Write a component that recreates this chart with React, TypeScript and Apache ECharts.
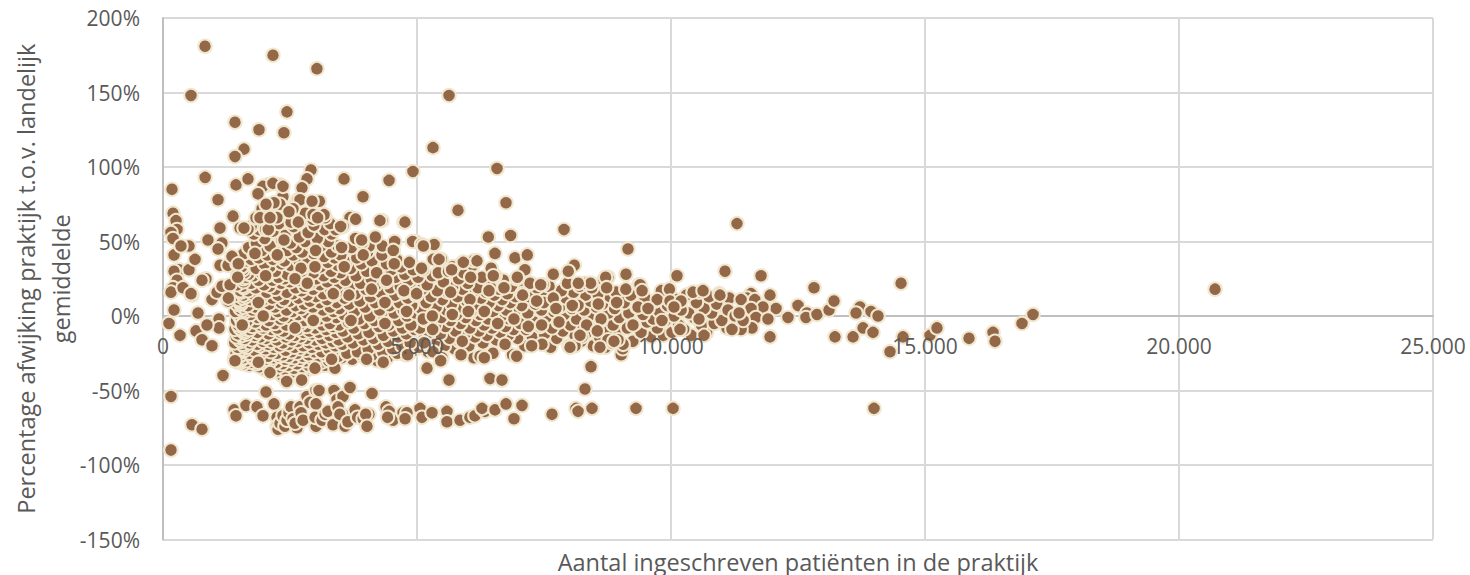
import React, { useEffect, useRef } from "react";
import * as echarts from "echarts";

const yTicks = { min: -150, max: 200, step: 50 };
const xTicks = { min: 0, max: 25000, step: 5000 };
const xTitle = "Aantal ingeschreven patiënten in de praktijk";
const yTitle = "Percentage afwijking praktijk t.o.v. landelijk\ngemiddelde";

const cloud1400: number[][] = [[1405,-29],[1412,-18],[1418,-9],[1425,3],[1430,14],[1438,-25],[1442,-14],[1448,-3],[1452,8],[1458,21],[1462,30],[1468,-31],[1472,-21],[1478,-12],[1482,-6],[1488,1],[1493,11],[1499,27],[1505,-27],[1508,-16],[1514,-8],[1520,5],[1526,17],[1530,-30],[1536,-23],[1542,-13],[1548,-2],[1552,9],[1558,33],[1564,-28],[1569,-19],[1575,-10],[1581,-4],[1586,6],[1592,19],[1599,29],[1545,-30],[1551,-24],[1558,-15],[1564,-7],[1570,2],[1577,12],[1582,25],[1588,-32],[1594,-20],[1600,-11],[1526,-1],[1532,8],[1540,16],[1546,33],[1552,-29],[1558,-22],[1564,-13],[1570,-5],[1576,4],[1582,14],[1588,23],[1594,42],[1530,-31],[1536,-26],[1542,-17],[1548,-9],[1554,0],[1560,10],[1566,20],[1572,31],[1578,-28]];
const cloud1600: number[][] = [[1604,-23],[1610,-15],[1616,-6],[1622,3],[1628,13],[1634,26],[1640,37],[1646,-30],[1652,-21],[1658,-12],[1664,-3],[1670,7],[1676,17],[1682,28],[1688,46],[1694,-33],[1700,-25],[1706,-18],[1712,-9],[1718,1],[1724,11],[1730,22],[1736,38],[1742,-31],[1748,-27],[1754,-16],[1760,-7],[1766,4],[1772,15],[1778,27],[1784,42],[1790,55],[1796,-29],[1802,-23],[1808,-13],[1814,-4],[1820,6],[1826,19],[1832,32],[1838,49],[1844,-32],[1850,-26],[1856,-19],[1862,-11],[1868,-1],[1874,9],[1880,24],[1886,39],[1892,58],[1898,-34],[1904,-28],[1910,-20],[1916,-14],[1922,-6],[1928,2],[1934,13],[1940,29],[1946,44],[1952,-31],[1958,-24],[1964,-17],[1970,-8],[1976,0],[1982,11],[1988,21],[1994,35],[2000,52]];
const cloud2000: number[][] = [[2006,-36],[2012,-29],[2018,-22],[2024,-15],[2030,-6],[2036,5],[2042,16],[2048,27],[2054,41],[2060,-33],[2066,-27],[2072,-19],[2078,-12],[2084,-3],[2090,8],[2096,20],[2102,33],[2108,47],[2114,-38],[2120,-30],[2126,-24],[2132,-17],[2138,-9],[2144,1],[2150,12],[2156,24],[2162,38],[2168,57],[2174,-35],[2180,-28],[2186,-21],[2192,-13],[2198,-5],[2204,6],[2210,18],[2216,30],[2222,43],[2228,-37],[2234,-31],[2240,-25],[2246,-16],[2252,-8],[2258,3],[2264,14],[2270,26],[2276,40],[2282,62],[2288,-34],[2294,-27],[2300,-20],[2306,-11],[2312,-2],[2318,9],[2324,22],[2330,35],[2336,51],[2342,-40],[2348,-32],[2354,-26],[2360,-18],[2366,-10],[2372,0],[2378,11],[2384,25],[2390,37],[2396,54],[2402,-36],[2408,-29],[2414,-23],[2420,-14],[2426,-6],[2432,4],[2438,16],[2444,28],[2450,44],[2456,-41],[2462,-33],[2468,-27],[2474,-19],[2480,-12],[2486,-1],[2492,10],[2498,23]];
const cloud2500: number[][] = [[2504,34],[2510,49],[2516,-38],[2522,-30],[2528,-24],[2534,-16],[2540,-7],[2546,3],[2552,15],[2558,27],[2564,41],[2570,60],[2576,-35],[2582,-28],[2588,-21],[2594,-13],[2600,-4],[2606,7],[2612,19],[2618,32],[2624,46],[2630,-39],[2636,-32],[2642,-25],[2648,-17],[2654,-9],[2660,1],[2666,12],[2672,24],[2678,37],[2684,53],[2690,-36],[2696,-29],[2702,-22],[2708,-14],[2714,-5],[2720,5],[2726,17],[2732,30],[2738,43],[2744,65],[2750,-34],[2756,-27],[2762,-20],[2768,-11],[2774,-3],[2780,8],[2786,20],[2792,33],[2798,50],[2804,-37],[2810,-30],[2816,-23],[2822,-15],[2828,-7],[2834,2],[2840,14],[2846,26],[2852,39],[2858,56],[2864,-33],[2870,-26],[2876,-18],[2882,-10],[2888,0],[2894,10],[2900,22],[2906,35],[2912,48],[2918,-35],[2924,-28],[2930,-21],[2936,-12],[2942,-4],[2948,6],[2954,18],[2960,29],[2966,42],[2972,61],[2978,-31],[2984,-24],[2990,-16],[2996,-8]];
const cloud3000: number[][] = [[3004,1],[3012,13],[3020,25],[3028,38],[3036,52],[3044,-34],[3052,-27],[3060,-19],[3068,-11],[3076,-2],[3084,9],[3092,21],[3100,33],[3108,47],[3116,-31],[3124,-24],[3132,-15],[3140,-6],[3148,4],[3156,15],[3164,27],[3172,40],[3180,58],[3188,-33],[3196,-26],[3204,-18],[3212,-9],[3220,0],[3228,11],[3236,23],[3244,36],[3252,50],[3260,-30],[3268,-22],[3276,-13],[3284,-5],[3292,6],[3300,18],[3308,30],[3316,43],[3324,-34],[3332,-25],[3340,-17],[3348,-7],[3356,3],[3364,14],[3372,26],[3380,39],[3388,-31],[3396,-20],[3404,-11],[3412,-1],[3420,9],[3428,21],[3436,34],[3444,47],[3452,-27],[3460,-16],[3468,-6],[3476,5],[3484,17],[3492,29],[3500,41]];
const cloud3500: number[][] = [[3515,-28],[3530,-19],[3545,-10],[3560,1],[3575,12],[3590,24],[3605,36],[3620,-25],[3635,-14],[3650,-4],[3665,8],[3680,20],[3695,32],[3710,46],[3725,-29],[3740,-18],[3755,-8],[3770,3],[3785,15],[3800,27],[3815,39],[3830,-24],[3845,-12],[3860,-2],[3875,10],[3890,22],[3905,35],[3920,49],[3935,-27],[3950,-16],[3965,-5],[3980,6],[3995,18],[4010,30],[4025,43],[4040,-22],[4055,-11],[4070,0],[4085,13],[4100,25],[4115,37],[4130,-26],[4145,-15],[4160,-3],[4175,9],[4190,21],[4205,33],[4220,-30],[4235,-19],[4250,-7],[4265,4],[4280,16],[4295,28],[4310,41],[4325,-24],[4340,-13],[4355,-1],[4370,11],[4385,23],[4400,35],[4415,-28],[4430,-17],[4445,-6],[4460,7],[4475,19],[4490,31],[4505,46],[4520,-22],[4535,-10],[4550,2],[4565,14],[4580,26],[4595,38],[4610,-25],[4625,-14],[4640,-3],[4655,9],[4670,20],[4685,33],[4700,-20],[4715,-8],[4730,4],[4745,16],[4760,28],[4775,-26],[4790,-12],[4805,0],[4820,12],[4835,24],[4850,36],[4865,-18],[4880,-6],[4895,7],[4910,18],[4925,31],[4940,-23],[4955,-9],[4970,2],[4985,14]];
const cloud5000: number[][] = [[5020,26],[5040,-21],[5060,-8],[5080,5],[5100,18],[5120,31],[5140,-15],[5160,-3],[5180,9],[5200,21],[5220,-24],[5240,-11],[5260,1],[5280,13],[5300,27],[5320,38],[5340,-18],[5360,-6],[5380,6],[5400,17],[5420,29],[5440,-25],[5460,-12],[5480,-1],[5500,11],[5520,23],[5540,-20],[5560,-7],[5580,4],[5600,16],[5620,30],[5640,-15],[5660,-3],[5680,8],[5700,19],[5720,33],[5740,-22],[5760,-10],[5780,1],[5800,13],[5820,25],[5840,-17],[5860,-5],[5880,6],[5900,18],[5920,29],[5940,-12],[5960,-1],[5980,10],[6000,22],[6020,-20],[6040,-8],[6060,3],[6080,15],[6100,34],[6120,-28],[6140,-14],[6160,-3],[6180,8],[6200,19],[6220,-10],[6240,1],[6260,12],[6280,26],[6300,-18],[6320,-6],[6340,5],[6360,16],[6380,-13],[6400,-2],[6420,9],[6440,20],[6460,32],[6480,-8],[6500,3],[6520,14],[6540,27],[6560,-16],[6580,-5],[6600,7],[6620,18],[6640,-11],[6660,0],[6680,11],[6700,24],[6720,-19],[6740,-7],[6760,4],[6780,15],[6800,-13],[6820,-2],[6840,9],[6860,20],[6880,-26],[6900,-9],[6920,2],[6940,13],[6960,25],[6980,-15]];
const cloud7000: number[][] = [[7030,-5],[7060,7],[7090,18],[7120,-20],[7150,-9],[7180,2],[7210,13],[7240,22],[7270,-14],[7300,-4],[7330,8],[7360,19],[7390,-18],[7420,-7],[7450,4],[7480,15],[7510,-12],[7540,-1],[7570,9],[7600,20],[7630,-21],[7660,-8],[7690,3],[7720,14],[7750,-15],[7780,-4],[7810,6],[7840,17],[7870,-10],[7900,1],[7930,12],[7960,22],[7990,-20],[8020,-6],[8050,5],[8080,16],[8110,-13],[8140,-2],[8170,9],[8200,20],[8230,-17],[8260,-7],[8290,4],[8320,14],[8350,-11],[8380,0],[8410,10],[8440,19],[8470,-20],[8500,-5],[8530,6],[8560,15],[8590,-14],[8620,-3],[8650,8],[8680,24],[8710,-21],[8740,-9],[8770,2],[8800,13],[8830,-18],[8860,-6],[8890,5],[8920,16],[8950,-12],[8980,-1]];
const cloud9000: number[][] = [[9020,-26],[9050,-22],[9080,9],[9110,18],[9140,-8],[9170,2],[9210,14],[9250,-17],[9290,-5],[9330,6],[9370,21],[9410,-11],[9450,1],[9490,12],[9530,-4],[9570,8],[9610,-14],[9650,-2],[9690,10],[9730,-8],[9770,3],[9810,17],[9850,-13],[9890,-3],[9930,7],[9970,18],[10020,-11],[10060,0],[10100,11],[10150,-6],[10200,4],[10250,-9],[10300,14],[10350,2],[10400,-13],[10450,-1],[10500,9],[10550,16],[10600,-6],[10650,5],[10700,-11],[10750,13],[10800,2],[10850,-5],[10900,8],[10950,15],[11000,-3],[11050,6],[11100,-8],[11150,12]];
const upperScatter: number[][] = [[2060,88],[2300,88],[1735,60],[1830,66],[1950,72],[2120,75],[2240,68],[2360,80],[2440,71],[2580,74],[2660,78],[2800,69],[2950,65],[3080,77],[3190,66],[3290,62],[3400,58],[3520,60],[3680,66],[3790,52],[3900,51],[4060,47],[4180,53],[4320,47],[4560,50],[4970,50],[5150,47],[5350,48],[5480,38],[5700,33],[5900,36],[6110,37],[2020,58],[2520,63],[3320,55]];
const leftScatter: number[][] = [[177,85],[830,93],[1437,88],[1673,92],[1969,87],[2165,89],[2362,87],[1870,82],[1083,78],[197,69],[256,64],[276,58],[157,56],[197,52],[217,41],[1122,59],[885,51],[1161,49],[1083,45],[512,47],[354,47],[315,31],[217,30],[512,31],[276,24],[846,25],[768,24],[630,38],[571,14],[197,19],[157,16],[394,19],[551,15],[964,11],[335,-13],[118,-5],[217,4],[650,-10],[768,-16],[964,-20],[1102,-2],[1102,-8],[866,-6],[689,2],[1122,34],[1063,16],[1161,20],[1319,21],[1280,34],[1457,35],[1280,10],[1378,67],[1358,40]];
const lowerBand: number[][] = [[157,-54],[157,-90],[571,-73],[768,-76],[1181,-40],[1398,-63],[1437,-67],[1634,-60],[1850,-61],[1968,-67],[2028,-51],[2185,-59],[2244,-68],[2244,-74],[2264,-76],[2303,-72],[2362,-67],[2400,-74],[2440,-70],[2480,-65],[2520,-61],[2560,-69],[2638,-75],[2600,-72],[2697,-61],[2717,-65],[2756,-70],[2835,-54],[2895,-58],[3012,-50],[3071,-50],[3012,-59],[3012,-74],[2992,-68],[3130,-70],[3190,-66],[3248,-64],[3366,-50],[3425,-56],[3543,-54],[3681,-48],[3445,-61],[3346,-73],[3583,-74],[3583,-67],[3480,-66],[3640,-71],[3780,-63],[3830,-68],[3940,-69],[4055,-66],[3990,-66],[4016,-74],[4114,-52],[4390,-61],[4450,-64],[4528,-70],[4420,-68],[4725,-65],[4803,-65],[4765,-69],[5059,-62],[5098,-68],[5295,-65],[5590,-64],[5590,-71],[5846,-70],[6040,-68],[6140,-67],[6339,-64],[6280,-62],[6535,-63],[6752,-59],[6909,-69],[7067,-60],[7657,-66],[8130,-62],[8170,-64],[8445,-62],[9311,-62],[10040,-62],[13996,-62],[5197,-35],[5630,-43],[6437,-42],[6673,-43],[8307,-49],[8425,-34]];
const upperOutliers: number[][] = [[827,181],[2165,175],[3030,166],[551,148],[5630,148],[2440,137],[1417,130],[1890,125],[2380,123],[5315,113],[1595,112],[1417,107],[6575,99],[4920,97],[2913,98],[2835,92],[2736,86],[3563,92],[4450,91],[3937,80],[2697,78],[2934,77],[3170,68],[2303,75],[2185,76],[2028,75],[2559,72],[2953,68],[2480,70],[5807,71],[6752,76],[4311,64],[4744,63],[3681,66],[3543,60],[1673,58],[1516,59],[1910,66],[2244,66]];
const frontTop: number[][] = [[3497,60],[3792,65],[4270,64],[4762,63],[3910,51],[4913,50],[5090,48],[4533,44],[3516,46],[3004,44],[2250,41],[1810,42],[2381,51],[2073,58],[1594,59],[2663,63],[3044,66],[2106,66],[3942,41],[4552,35],[3568,33],[2716,32],[1482,35],[2020,27],[1469,26],[2598,25],[2991,33],[2840,22],[4205,29],[4402,24],[3352,15],[3660,14],[4743,17],[5090,32],[4992,15],[1876,9],[1286,12],[4369,9]];
const frontBottom: number[][] = [[4106,18],[1974,0],[1561,-6],[2598,-8],[2958,-3],[3700,-3],[4369,-5],[1417,-30],[2434,-44],[2729,-43],[3385,-35],[4008,-29],[4336,-31],[4815,-26],[2991,-35],[3319,-29],[4795,3],[5123,-2],[2106,-38],[1876,-31]];
const frontMid: number[][] = [[5335,48],[5125,47],[6404,53],[6843,54],[6535,42],[6929,39],[7171,41],[7125,31],[6181,37],[5433,38],[5912,36],[5682,31],[6056,26],[6502,27],[6975,26],[7683,28],[8096,34],[7978,30],[7434,21],[8418,22],[8713,26],[8733,19],[8175,22],[6712,19],[6417,17],[5662,16],[7079,14],[6043,11],[7355,10],[7683,12],[7735,5],[8057,7],[8930,9],[8568,8],[5695,1],[6010,3],[6325,3],[6909,-2],[6588,-5],[5302,0],[5308,-9],[7191,-7],[7453,-6],[7795,-4],[8339,-6],[8208,-13],[8877,-17],[8549,-10],[5892,-17],[7257,-20],[8011,-21],[8601,-21],[6325,-28],[6961,-27],[5466,-30],[7894,58],[9153,45]];
const midRight: number[][] = [[11063,30],[10118,27],[9114,28],[8327,22],[8760,26],[7480,21],[7224,22],[9390,21],[9430,17],[9728,11],[9980,10],[10197,10],[10433,16],[10630,17],[10964,14],[11122,4],[10650,-13],[10177,-9],[9822,-3],[9350,6],[9058,-19],[8957,-16],[8760,-16],[8248,-14],[8110,-20],[7461,-19],[6732,-19],[6496,-25],[6240,-27],[5866,-26],[5492,-28],[5315,-24],[5138,-18],[7500,9],[7067,15],[8169,7],[8622,-2],[9252,-6],[9547,5],[10059,6],[10551,-2]];
const rightTail: number[][] = [[11299,62],[11772,27],[12815,19],[14528,22],[11575,15],[11949,14],[11500,12],[11380,11],[11650,11],[12067,5],[11811,6],[11575,5],[11260,0],[11673,-1],[11909,-2],[12303,-1],[12500,7],[12677,2],[12657,-1],[12874,1],[13110,4],[13209,10],[13720,6],[13642,2],[13937,3],[14075,0],[13780,-8],[13976,-11],[13228,-14],[13583,-14],[11949,-14],[14311,-24],[14567,-14],[15098,-13],[15236,-8],[15866,-15],[16339,-11],[16378,-17],[16909,-5],[17126,1],[20709,18],[11595,-8],[11380,-9],[11200,-9],[11420,-3],[11340,2]];

const cloudByHeight = [
  ...cloud1400, ...cloud1600, ...cloud2000, ...cloud2500, ...cloud3000, ...cloud3500,
  ...cloud5000, ...cloud7000, ...cloud9000, ...upperScatter,
].sort((a, b) => a[1] - b[1]);

const points: number[][] = [
  ...cloudByHeight, ...leftScatter, ...lowerBand, ...upperOutliers,
  ...midRight, ...rightTail, ...frontBottom, ...frontTop, ...frontMid,
];

const FONT = "'Open Sans', sans-serif";
const TEXT = "#595959";

export default function App() {
  const ref = useRef<HTMLDivElement>(null);
  useEffect(() => {
    const chart = echarts.init(ref.current!, null, { renderer: "svg" });
    chart.setOption({
      animation: false,
      grid: { left: 163, right: 37, top: 18, bottom: 35.5, containLabel: false, outerBoundsMode: "none" },
      textStyle: { fontFamily: FONT },
      xAxis: [
        {
          type: "value", position: "top", min: xTicks.min, max: xTicks.max, interval: xTicks.step, z: 0,
          axisLine: { show: true, onZero: true, lineStyle: { color: "#bfbfbf", width: 2 } },
          axisTick: { show: false }, axisLabel: { show: false },
          splitLine: { show: true, lineStyle: { color: "#d9d9d9", width: 2 } },
        },
        {
          type: "value", position: "bottom", offset: -223, min: xTicks.min, max: xTicks.max, interval: xTicks.step, z: 5,
          axisLine: { show: false, onZero: false }, axisTick: { show: false }, splitLine: { show: false },
          axisLabel: {
            show: true, color: TEXT, fontFamily: FONT, fontSize: 21, margin: 19,
            formatter: (v: number) => String(v).replace(/\B(?=(\d{3})+$)/g, "."),
          },
          name: xTitle, nameLocation: "middle", nameGap: 234, nameMoveOverlap: false,
          nameTextStyle: { color: TEXT, fontFamily: FONT, fontSize: 23.5, lineHeight: 22 },
        },
      ],
      yAxis: {
        type: "value", min: yTicks.min, max: yTicks.max, interval: yTicks.step,
        axisLine: { show: true, lineStyle: { color: "#bfbfbf", width: 2 } },
        axisTick: { show: false },
        axisLabel: { color: TEXT, fontFamily: FONT, fontSize: 21, margin: 23, formatter: "{value}%" },
        splitLine: { show: true, lineStyle: { color: "#d9d9d9", width: 2 } },
        name: yTitle, nameLocation: "middle", nameRotate: 90, nameGap: 85, nameMoveOverlap: false,
        nameTextStyle: { color: TEXT, fontFamily: FONT, fontSize: 23.5, lineHeight: 35, align: "center" },
      },
      series: [{
        type: "scatter", xAxisIndex: 0, data: points, symbol: "circle", symbolSize: 13.5,
        itemStyle: { color: "#926848", borderColor: "#f1e6ce", borderWidth: 2, opacity: 1 },
        emphasis: { disabled: true }, z: 2, large: false,
      }],
    });
    return () => chart.dispose();
  }, []);
  return <div ref={ref} style={{ position: "absolute", left: 0, top: 0, width: 1470, height: 575 }} />;
}
